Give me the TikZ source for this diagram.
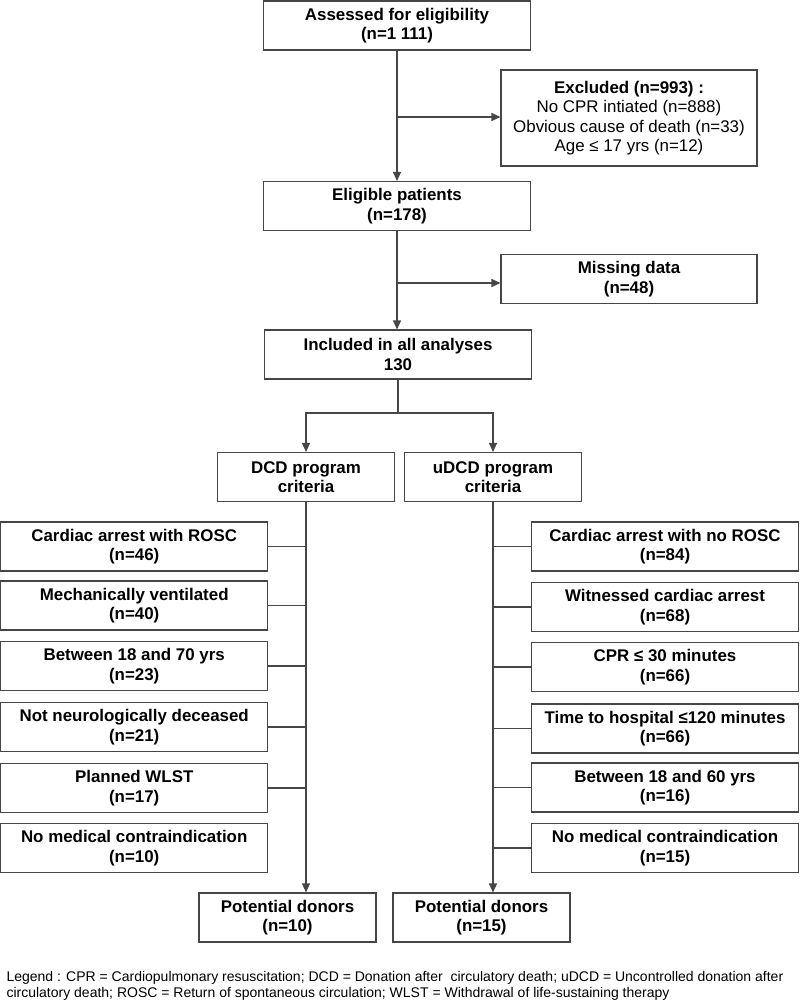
\documentclass[tikz,border=0pt]{standalone}
\usepackage{fontspec}
\setmainfont{Liberation Sans}
\usetikzlibrary{arrows.meta}
\definecolor{linegray}{RGB}{70,70,70}
\begin{document}
\begin{tikzpicture}[x=1pt, y=-1pt, line width=1.1pt,
  every node/.style={font=\fontsize{16.9}{19.5}\selectfont\bfseries},
  box/.style={draw=linegray, align=center, inner sep=0pt, minimum height=49pt},
  mainbox/.style={box, minimum width=267pt},
  sidebox/.style={box, minimum width=256pt},
  progbox/.style={box, minimum width=177pt},
  critbox/.style={box, minimum width=267pt},
  donorbox/.style={box, minimum width=177pt},
  link/.style={draw=linegray},
  arr/.style={draw=linegray, -{Triangle[length=9pt,width=8pt]}}]
  \useasboundingbox (0,0) rectangle (800,1003);

  \node[mainbox] (assess) at (397,25.5) {Assessed for eligibility\\(n=1 111)};
  \node[sidebox, minimum height=96pt] (excl) at (629,118) {Excluded (n=993) :\\
    \textmd{No CPR intiated (n=888)}\\ \textmd{Obvious cause of death (n=33)}\\ \textmd{Age ≤ 17 yrs (n=12)}};
  \node[mainbox] (elig) at (397,206) {Eligible patients\\(n=178)};
  \node[sidebox] (miss) at (629,279) {Missing data\\(n=48)};
  \node[mainbox] (incl) at (398,354.5) {Included in all analyses\\130};

  \node[progbox] (dcd) at (306,477) {DCD program\\criteria};
  \node[progbox] (udcd) at (493,477) {uDCD program\\criteria};

  \node[critbox] (l1) at (134.2,546.5) {Cardiac arrest with ROSC\\(n=46)};
  \node[critbox] (l2) at (134.2,605.5) {Mechanically ventilated\\(n=40)};
  \node[critbox] (l3) at (134.2,666) {Between 18 and 70 yrs\\(n=23)};
  \node[critbox] (l4) at (134.2,727) {Not neurologically deceased\\(n=21)};
  \node[critbox] (l5) at (134.2,788) {Planned WLST\\(n=17)};
  \node[critbox] (l6) at (134.2,848) {No medical contraindication\\(n=10)};

  \node[critbox] (r1) at (665,546.5) {Cardiac arrest with no ROSC\\(n=84)};
  \node[critbox] (r2) at (665,607) {Witnessed cardiac arrest\\(n=68)};
  \node[critbox] (r3) at (665,667) {CPR ≤ 30 minutes\\(n=66)};
  \node[critbox] (r4) at (665,728.5) {Time to hospital ≤120 minutes\\(n=66)};
  \node[critbox] (r5) at (665,787.5) {Between 18 and 60 yrs\\(n=16)};
  \node[critbox] (r6) at (665,848) {No medical contraindication\\(n=15)};

  \node[donorbox] (donl) at (287.5,917.5) {Potential donors\\(n=10)};
  \node[donorbox] (donr) at (481.5,917.5) {Potential donors\\(n=15)};

  \node[anchor=north west, align=left, inner sep=0pt,
    font=\fontsize{14}{16}\selectfont] (legend) at (6,971)
    {Legend : CPR = Cardiopulmonary resuscitation; DCD = Donation after~ circulatory death; uDCD = Uncontrolled donation after\\
     circulatory death; ROSC = Return of spontaneous circulation; WLST = Withdrawal of life-sustaining therapy};

  \coordinate (j1) at (397,117);
  \coordinate (j2) at (397,283);
  \coordinate (split) at (398,413);

  \draw[arr] (assess) -- (elig);
  \draw[arr] (j1) -- (j1 -| excl.west);
  \draw[arr] (elig) -- (incl.north -| elig.south);
  \draw[arr] (j2) -- (j2 -| miss.west);
  \draw[link] (incl) -- (split);
  \draw[arr] (split) -| (dcd);
  \draw[arr] (split) -| (udcd);

  \draw[arr] (dcd) -- (dcd.south |- donl.north);
  \draw[arr] (udcd) -- (udcd.south |- donr.north);
  \foreach \c in {l1,l2,l3,l4,l5}
    \draw[link] (\c) -- (\c -| dcd.south);
  \foreach \c in {r1,r2,r3,r4,r5,r6}
    \draw[link] (\c) -- (\c -| udcd.south);
\end{tikzpicture}
\end{document}
